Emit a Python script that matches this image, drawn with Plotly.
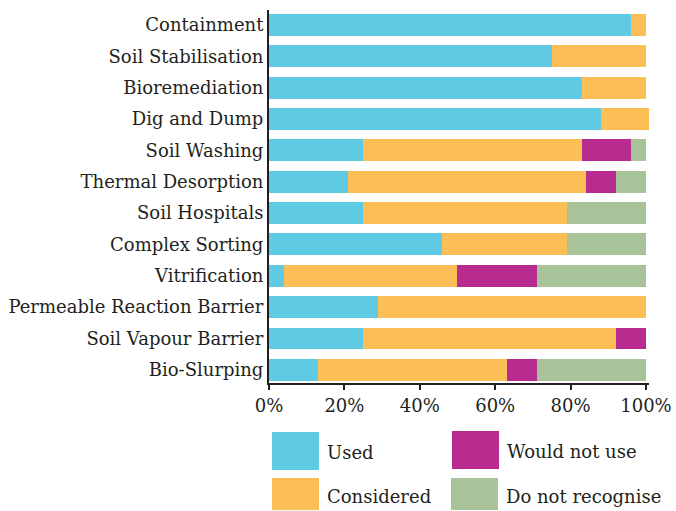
import plotly.graph_objects as go

categories = ["Containment", "Soil Stabilisation", "Bioremediation", "Dig and Dump",
              "Soil Washing", "Thermal Desorption", "Soil Hospitals", "Complex Sorting",
              "Vitrification", "Permeable Reaction Barrier", "Soil Vapour Barrier", "Bio-Slurping"]
used =            [96, 75, 83, 88, 25, 21, 25, 46, 4, 29, 25, 13]
considered =      [4, 25, 17, 13, 58, 63, 54, 33, 46, 71, 67, 50]
would_not_use =   [0, 0, 0, 0, 13, 8, 0, 0, 21, 0, 8, 8]
do_not_recognise = [0, 0, 0, 0, 4, 8, 21, 21, 29, 0, 0, 29]

series_names = ["Used", "Considered", "Would not use", "Do not recognise"]
series_values = [used, considered, would_not_use, do_not_recognise]
colors = ["#5ECAE4", "#FCBF55", "#B82C8F", "#A8C399"]
x_ticks = [0, 20, 40, 60, 80, 100]
x_tick_labels = ["0%", "20%", "40%", "60%", "80%", "100%"]

FONT = "DejaVu Serif"
TEXT = "#231F20"

fig = go.Figure()
for name, vals, col in zip(series_names, series_values, colors):
    fig.add_trace(go.Bar(y=categories, x=vals, name=name, orientation="h",
                         marker=dict(color=col, line=dict(width=0)), showlegend=False))

W, H = 676, 511
L, R, T, B = 269, 676 - 649, 10, 511 - 383
pw, ph = 649 - 269, 383 - 10
def px2x(px): return (px - L) / pw
def py2y(py): return (H - B - py) / ph

# custom legend (large swatches): (left, top, bottom)
pos = [(272, 432, 470), (272, 478, 510), (452, 431, 469), (451, 478, 510)]
for (px, top, bot), name, col in zip(pos, series_names, colors):
    fig.add_shape(type="rect", xref="paper", yref="paper",
                  x0=px2x(px), x1=px2x(px + 47), y0=py2y(bot), y1=py2y(top),
                  fillcolor=col, line=dict(width=0))
    fig.add_annotation(xref="paper", yref="paper", x=px2x(px + 53), y=py2y((top + bot) / 2 + 2),
                       text=name, showarrow=False, xanchor="left", yanchor="middle",
                       font=dict(family=FONT, size=18, color=TEXT))

fig.update_layout(
    barmode="stack", bargap=0.3,
    width=W, height=H,
    margin=dict(l=L, r=R, t=T, b=B, autoexpand=False),
    paper_bgcolor="white", plot_bgcolor="white",
    font=dict(family=FONT, size=18, color=TEXT),
    xaxis=dict(range=[0, 100.8], tickvals=x_ticks, ticktext=x_tick_labels, automargin=False,
               showgrid=False, zeroline=False, showline=True, linecolor=TEXT, linewidth=2,
               ticks="outside", ticklen=5, tickwidth=2, tickcolor=TEXT,
               tickfont=dict(family=FONT, size=18, color=TEXT)),
    yaxis=dict(categoryorder="array", categoryarray=categories, range=[11.42, -0.48],
               automargin=False,
               showgrid=False, zeroline=False, showline=True, linecolor=TEXT, linewidth=2,
               ticks="", ticklabelstandoff=0,
               tickfont=dict(family=FONT, size=18, color=TEXT)),
)
fig.write_html("out.html")
